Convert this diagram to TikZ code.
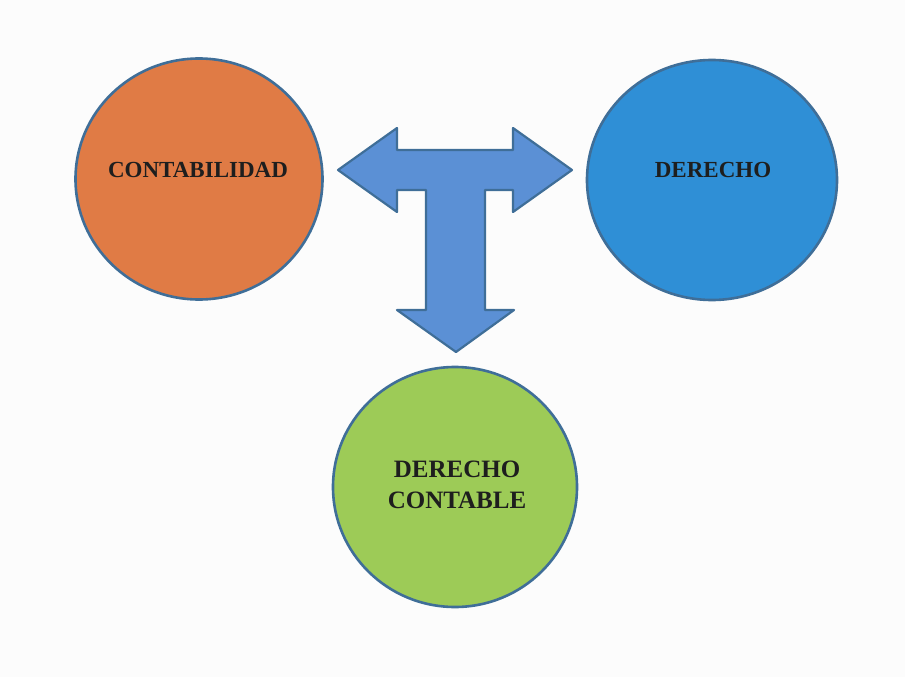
\documentclass[tikz,border=0pt]{standalone}
\usepackage{fontspec}
\setmainfont{Liberation Serif}
\usetikzlibrary{shapes.geometric}

\definecolor{pageBg}{HTML}{FCFCFC}
\definecolor{ringLine}{HTML}{3F6E98}
\definecolor{orangeFill}{HTML}{E07B45}
\definecolor{blueFill}{HTML}{2F8FD6}
\definecolor{greenFill}{HTML}{9DCB57}
\definecolor{arrowFill}{HTML}{5B90D5}
\definecolor{inkText}{HTML}{1E1E1E}

\tikzset{
  bubble/.style={ellipse, draw=ringLine, line width=2.6pt, inner sep=0pt},
  caption/.style={font=\bfseries\fontsize{23}{28}\selectfont, text=inkText, align=center, inner sep=0pt},
  bigcaption/.style={font=\bfseries\fontsize{25}{31}\selectfont, text=inkText, align=center, inner sep=0pt},
  tshape/.style={fill=arrowFill, draw=ringLine, line width=2.2pt, line join=round}
}

\begin{document}
\begin{tikzpicture}[x=1pt, y=-1pt]
  % page
  \fill[pageBg] (0,0) rectangle (905,677);
  \useasboundingbox (0,0) rectangle (905,677);

  % the three subjects
  \node[bubble, fill=orangeFill, minimum width=247pt, minimum height=241pt] (conta) at (199,179) {};
  \node[bubble, fill=blueFill, minimum width=250pt, minimum height=240pt] (dere) at (712,180) {};
  \node[bubble, fill=greenFill, minimum width=244pt, minimum height=240pt] (dcont) at (455,487) {};

  \node[caption] (contaText) at (198,170) {CONTABILIDAD};
  \node[caption] (dereText) at (713,170) {DERECHO};
  \node[bigcaption] (dcontText) at (457,485) {DERECHO\\CONTABLE};

  % T-shaped three-way arrow
  \draw[tshape]
    (338,170) coordinate (tipW)
    -- (397,128) -- (397,150) -- (513,150) -- (513,128)
    -- (572,170) coordinate (tipE)
    -- (513,212) -- (513,190) -- (485,190) -- (485,310) -- (514,310)
    -- (456,352) coordinate (tipS)
    -- (397,310) -- (426,310) -- (426,190) -- (397,190) -- (397,212)
    -- cycle;
\end{tikzpicture}
\end{document}
